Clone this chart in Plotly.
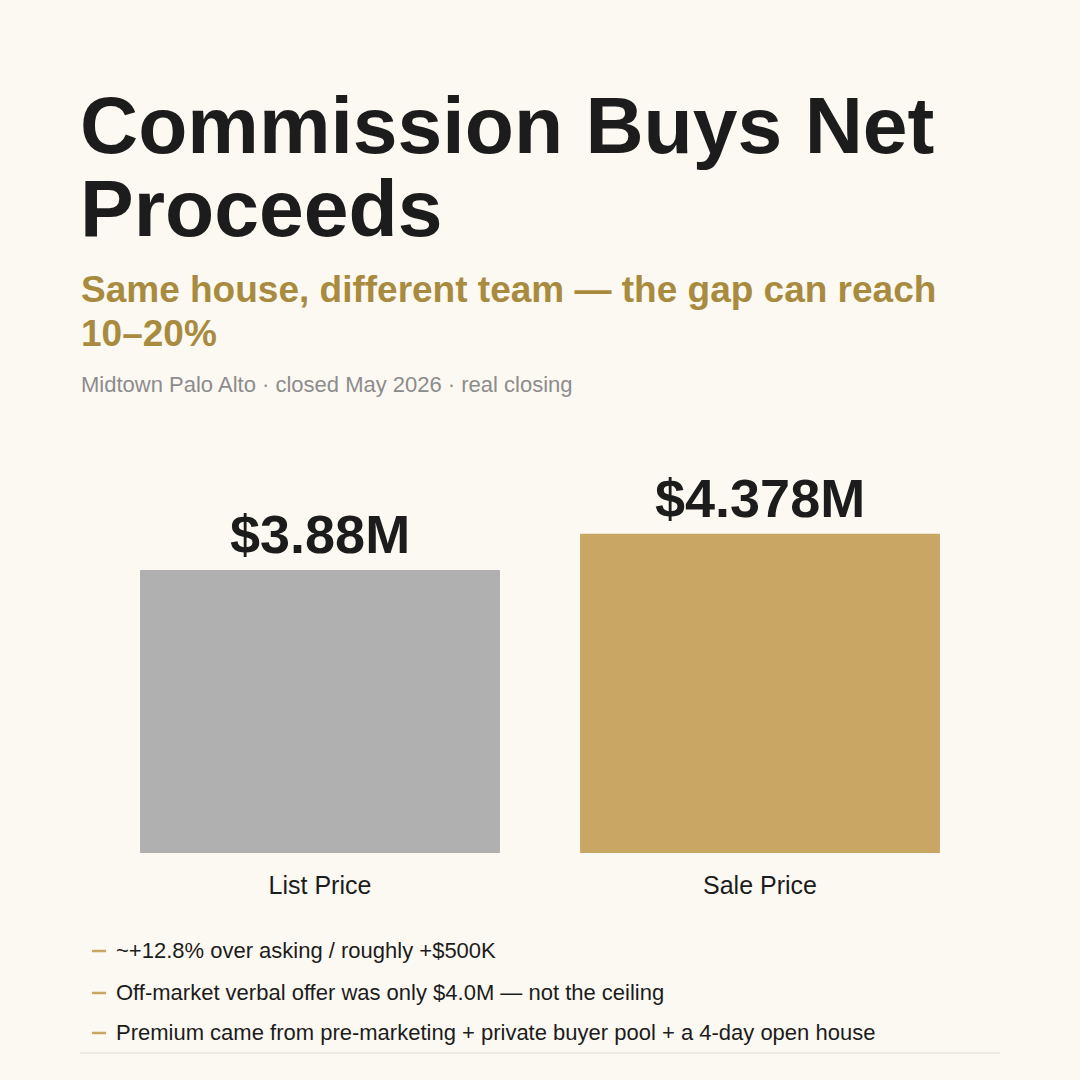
import plotly.graph_objects as go

categories = ["List Price", "Sale Price"]
values_m = [3.88, 4.378]
value_labels = ["$3.88M", "$4.378M"]
bar_colors = ["#b0b0b0", "#c9a663"]

title_lines = ["Commission Buys Net", "Proceeds"]
subtitle_lines = ["Same house, different team — the gap can reach", "10–20%"]
meta_text = "Midtown Palo Alto · closed May 2026 · real closing"
notes = [
    "~+12.8% over asking / roughly +$500K",
    "Off-market verbal offer was only $4.0M — not the ceiling",
    "Premium came from pre-marketing + private buyer pool + a 4-day open house",
]

W = H = 1080
BG = "#fcf9f2"
FONT = "Liberation Sans, Arial, Helvetica, sans-serif"

def px(x):
    return x / W

def py(y):
    return 1 - y / H

fig = go.Figure()
fig.add_trace(go.Bar(
    x=categories, y=values_m,
    marker=dict(color=bar_colors, line=dict(width=0)),
    cliponaxis=False, hoverinfo="skip",
))

y_bottom_px, y_top_px = 853, 460
px_per_m = (853 - 570) / 3.88
y_max = (y_bottom_px - y_top_px) / px_per_m

fig.update_layout(
    width=W, height=H,
    margin=dict(l=0, r=0, t=0, b=0),
    paper_bgcolor=BG, plot_bgcolor=BG,
    showlegend=False, bargap=0.182,
    xaxis=dict(domain=[px(100), px(980)], showgrid=False, zeroline=False, showline=False,
               ticks="outside", ticklen=10, tickcolor=BG,
               tickfont=dict(family=FONT, size=25, color="#1c1c1c")),
    yaxis=dict(domain=[1 - y_bottom_px / H, 1 - y_top_px / H], range=[0, y_max],
               visible=False),
    font=dict(family=FONT),
)

annots = []
for cat, val, lab in zip(categories, values_m, value_labels):
    annots.append(dict(
        x=cat, y=val, xref="x", yref="y", xanchor="center", yanchor="bottom",
        yshift=4, text=lab, showarrow=False,
        font=dict(family=FONT, size=54, color="#1c1c1c", weight="bold"),
    ))

def add_text(x, yc, text, size, color, bold=False):
    annots.append(dict(
        x=px(x), y=py(yc), xref="paper", yref="paper", xanchor="left", yanchor="middle",
        text=text, showarrow=False,
        font=dict(family=FONT, size=size, color=color, weight="bold" if bold else "normal"),
    ))

add_text(78, 125, title_lines[0], 80.5, "#1c1c1c", True)
add_text(78, 208, title_lines[1], 80.5, "#1c1c1c", True)
add_text(79, 289, subtitle_lines[0], 37, "#a88b3f", True)
add_text(79, 333, subtitle_lines[1], 37, "#a88b3f", True)
add_text(79, 385, meta_text, 22, "#8c8c8c")

note_y = [950, 992, 1032]
shapes = []
for ny, note in zip(note_y, notes):
    add_text(114, ny, note, 22, "#1c1c1c")
    shapes.append(dict(type="line", xref="paper", yref="paper",
                       x0=px(92), x1=px(106), y0=py(ny + 1), y1=py(ny + 1),
                       line=dict(color="#c9a663", width=2.5)))
shapes.append(dict(type="line", xref="paper", yref="paper",
                   x0=px(80), x1=px(1000), y0=py(1053), y1=py(1053),
                   line=dict(color="#dddad3", width=1)))

fig.update_layout(annotations=annots, shapes=shapes)
fig.write_html("out.html")
